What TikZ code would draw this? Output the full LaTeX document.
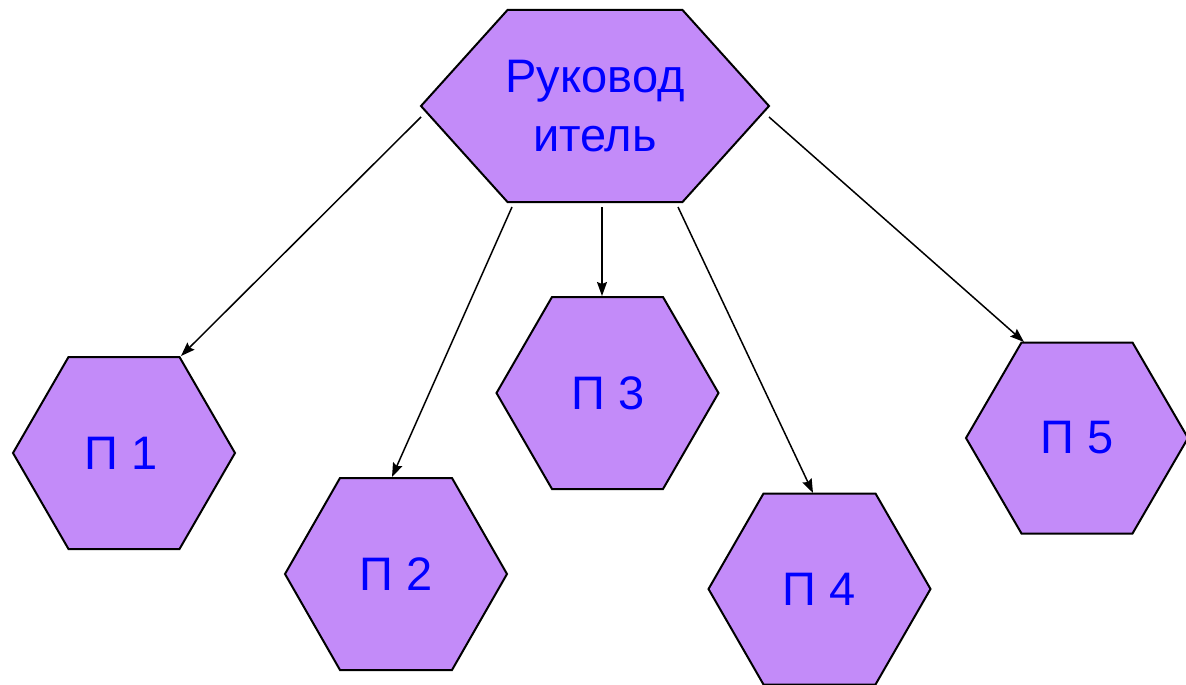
\documentclass[tikz,border=0pt]{standalone}
\usepackage{fontspec}
\setmainfont{Liberation Sans}
\usetikzlibrary{arrows.meta}
\definecolor{hexfill}{RGB}{195,139,249}
\definecolor{txtblue}{RGB}{0,0,255}
\tikzset{
  hexshape/.style={draw=black, line width=2pt, fill=hexfill, line join=miter},
  hexlabel/.style={text=txtblue, font=\fontsize{47}{59}\selectfont, inner sep=0pt, align=center},
  conn/.style={draw=black, line width=1.5pt, -{Stealth[length=14pt,width=10pt,inset=2pt]}}
}
% \hexa{cx}{cy}{half width}{half top edge}{half height}
\newcommand{\hexa}[5]{%
  \path[hexshape] (#1-#3,#2) -- (#1-#4,#2-#5) -- (#1+#4,#2-#5) -- (#1+#3,#2)
    -- (#1+#4,#2+#5) -- (#1-#4,#2+#5) -- cycle;}
\begin{document}
\begin{tikzpicture}[x=1pt,y=-1pt]
\useasboundingbox (0,0) rectangle (1186,685);
\fill[white] (0,0) rectangle (1186,685);
% hexagons
\hexa{595}{106}{174}{87.5}{96}
\hexa{124}{453}{111}{55.5}{96}
\hexa{396}{574}{111}{56}{96}
\hexa{607.5}{393}{111}{55.5}{96}
\hexa{819.5}{589}{111}{56}{95.5}
\hexa{1077}{438}{111}{55.5}{95.5}
% labels
\node[hexlabel] (boss) at (595,106) {Руковод\\итель};
\node[hexlabel] (p1) at (121,453) {П 1};
\node[hexlabel] (p2) at (396,574) {П 2};
\node[hexlabel] (p3) at (608,393) {П 3};
\node[hexlabel] (p4) at (819,589) {П 4};
\node[hexlabel] (p5) at (1077,438) {П 5};
% connector end points
\coordinate (s1) at (421,117);
\coordinate (e1) at (181,356);
\coordinate (s2) at (512,207);
\coordinate (e2) at (392,477);
\coordinate (s3) at (602,207);
\coordinate (e3) at (602,296);
\coordinate (s4) at (678,207);
\coordinate (e4) at (813,493);
\coordinate (s5) at (769,117);
\coordinate (e5) at (1024,342);
\draw[conn] (s1) -- (e1);
\draw[conn] (s2) -- (e2);
\draw[conn] (s3) -- (e3);
\draw[conn] (s4) -- (e4);
\draw[conn] (s5) -- (e5);
\end{tikzpicture}
\end{document}
